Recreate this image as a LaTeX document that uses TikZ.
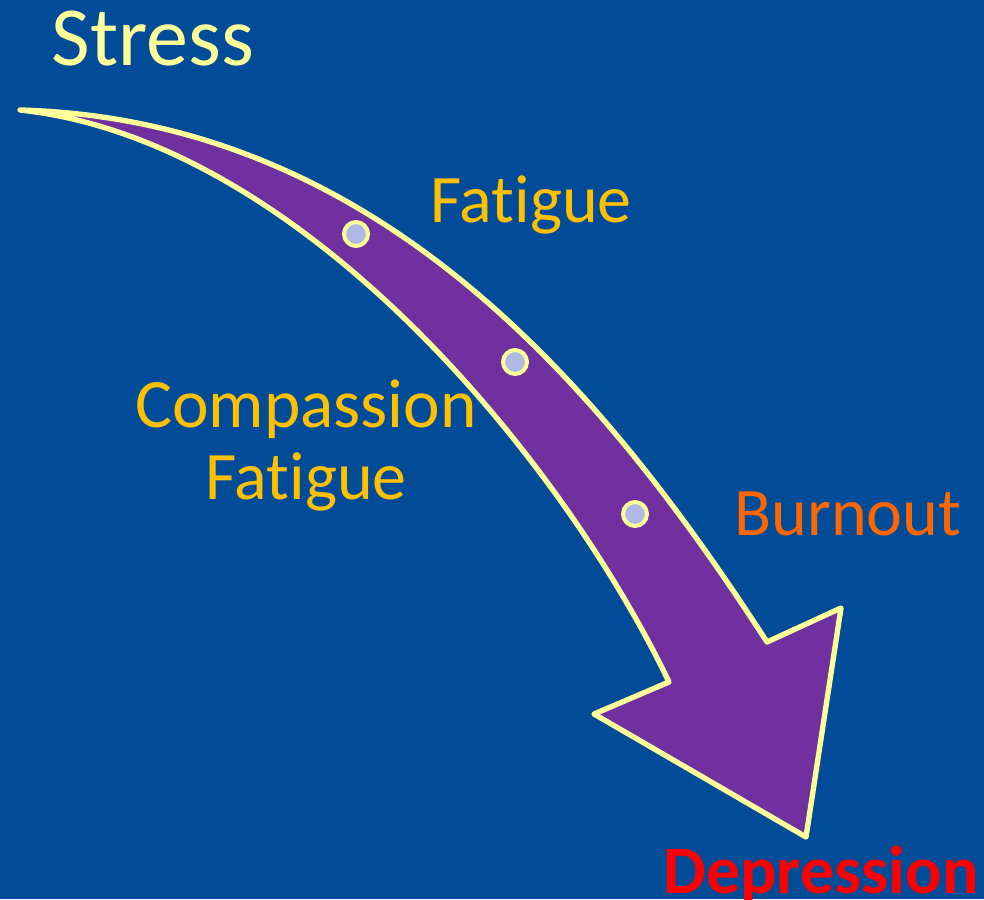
\documentclass[tikz,border=0pt]{standalone}
\usepackage{fontspec}
\setmainfont[Ligatures=NoCommon]{Carlito}
\definecolor{bgblue}{RGB}{0,76,153}
\definecolor{arrowpurple}{RGB}{112,48,160}
\definecolor{paleyellow}{RGB}{255,255,153}
\definecolor{stageorange}{RGB}{255,192,0}
\definecolor{burnorange}{RGB}{255,102,0}
\definecolor{dotblue}{RGB}{176,186,228}

\begin{document}
\begin{tikzpicture}[x=0.75pt,y=-0.75pt]
\useasboundingbox (0,0) rectangle (984,899);
\clip (0,0) rectangle (984,899);
\fill[bgblue] (0,0) rectangle (984,899);

% curved arrow
\draw[line width=4pt, draw=paleyellow, fill=arrowpurple, line join=round]
  (20,110) .. controls (380,120) and (604,390) .. (767,642)
  -- (841,608) -- (806,837) -- (594,714) -- (669,682)
  .. controls (561,457) and (300,140) .. (20,110) -- cycle;

\foreach \i/\x/\y in {1/356/234, 2/515/362, 3/635/514} {
  \node[circle, draw=paleyellow, line width=3pt, fill=dotblue, minimum size=18pt, inner sep=0pt] (dot\i) at (\x,\y) {};
}

\node[anchor=base, inner sep=0pt, text=paleyellow, font=\fontsize{63}{70}\selectfont] (stress) at (153,65) {Stress};
\node[anchor=base, inner sep=0pt, text=stageorange, font=\fontsize{51}{58}\selectfont] (fatigue) at (531,222) {Fatigue};
\node[anchor=base, inner sep=0pt, text=stageorange, font=\fontsize{52}{58}\selectfont] (compassion) at (306,427) {Compassion};
\node[anchor=base, inner sep=0pt, text=stageorange, font=\fontsize{51}{58}\selectfont] (compfatigue) at (306,499) {Fatigue};
\node[anchor=base, inner sep=0pt, text=burnorange, font=\fontsize{51}{58}\selectfont] (burnout) at (848,535) {Burnout};
\node[anchor=base, inner sep=0pt, text=red, font=\fontsize{51}{58}\selectfont\bfseries] (depression) at (821,893) {Depression};
\end{tikzpicture}
\end{document}
